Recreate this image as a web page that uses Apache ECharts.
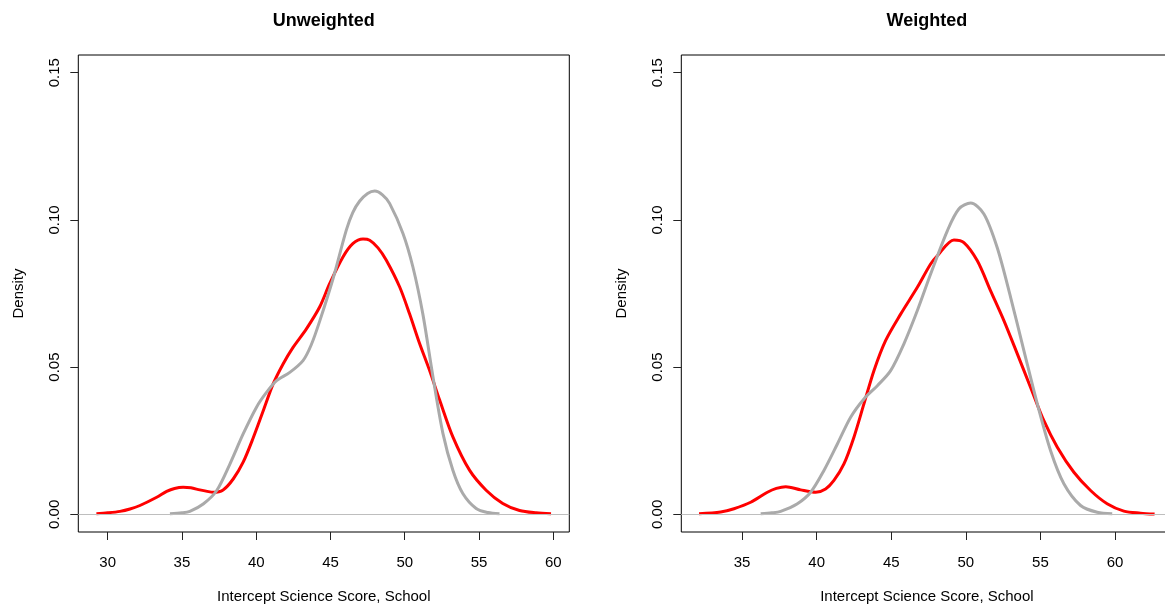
<!DOCTYPE html>
<html>
<head>
<meta charset="utf-8">
<script src="https://cdn.jsdelivr.net/npm/echarts@6/dist/echarts.min.js"></script>
<style>
html,body{margin:0;padding:0;background:#fff;overflow:hidden;width:1165px;height:605px;}
#chart{width:1180px;height:605px;}
</style>
</head>
<body>
<div id="chart"></div>
<script>
// ---- Data ----
const panelTitles = ['Unweighted', 'Weighted'];
const xAxisTitle = 'Intercept Science Score, School';
const yAxisTitle = 'Density';
const yTickValues = [0, 0.05, 0.10, 0.15];
const xTickValuesLeft = [30, 35, 40, 45, 50, 55, 60];
const xTickValuesRight = [35, 40, 45, 50, 55, 60];

// Unweighted panel – red density
const unwRedX = [29.24, 30.0, 30.83, 31.5, 32.17, 33.3, 33.97, 34.5, 35.08, 35.6, 36.2, 36.7, 37.1, 37.77, 38.45, 39.12, 39.8, 40.46, 41.14, 41.8, 42.48, 43.38, 44.28, 44.95, 45.84, 46.52, 47.19, 47.64, 48.2, 48.76, 49.66, 50.33, 51.0, 51.67, 52.35, 53.24, 54.36, 55.48, 56.6, 57.73, 58.85, 59.85];
const unwRedY = [0.0002, 0.0005, 0.001, 0.0018, 0.003, 0.0058, 0.0078, 0.0088, 0.0092, 0.0090, 0.0083, 0.0078, 0.0075, 0.0083, 0.012, 0.0177, 0.026, 0.035, 0.0443, 0.051, 0.0567, 0.063, 0.0705, 0.0784, 0.0874, 0.092, 0.0935, 0.0931, 0.0905, 0.0863, 0.0772, 0.068, 0.058, 0.0489, 0.0388, 0.0263, 0.015, 0.0082, 0.0037, 0.0013, 0.0005, 0.0002];
// Unweighted panel – grey density
const unwGreyX = [34.19, 35.0, 35.53, 36.43, 37.33, 38.22, 39.12, 40.02, 40.69, 41.37, 42.26, 43.15, 43.7, 44.28, 45.17, 46.07, 46.5, 46.97, 47.5, 47.98, 48.5, 48.98, 49.88, 50.55, 51.22, 51.9, 52.57, 53.24, 53.91, 54.81, 55.6, 56.38];
const unwGreyY = [0.0002, 0.0005, 0.001, 0.0035, 0.008, 0.017, 0.0273, 0.0364, 0.0414, 0.0454, 0.0482, 0.0522, 0.0575, 0.0657, 0.080, 0.0966, 0.1025, 0.1064, 0.1090, 0.1098, 0.1085, 0.1056, 0.0954, 0.084, 0.068, 0.0467, 0.0275, 0.015, 0.0071, 0.002, 0.0006, 0.0002];

// Weighted panel – red density
const wRedX = [32.12, 33.57, 34.46, 35.58, 36.7, 37.3, 37.93, 38.93, 39.94, 40.6, 41.16, 41.83, 42.5, 43.17, 43.84, 44.62, 45.63, 46.75, 47.64, 48.09, 49.2, 49.87, 50.77, 51.66, 52.55, 53.45, 54.34, 55.23, 56.13, 57.24, 58.36, 59.47, 60.59, 61.7, 62.65];
const wRedY = [0.0002, 0.0008, 0.0019, 0.0041, 0.0075, 0.0088, 0.0094, 0.0083, 0.0075, 0.0086, 0.0115, 0.0171, 0.0262, 0.0375, 0.0488, 0.059, 0.068, 0.0771, 0.085, 0.0878, 0.0932, 0.0923, 0.0861, 0.0759, 0.0658, 0.0545, 0.0431, 0.0318, 0.0228, 0.0143, 0.0081, 0.0036, 0.0011, 0.0004, 0.0001];
// Weighted panel – grey density
const wGreyX = [36.25, 37.0, 37.59, 38.71, 39.6, 40.49, 41.39, 42.28, 43.17, 44.07, 44.96, 45.85, 46.75, 47.64, 48.76, 49.53, 50.32, 51.21, 52.1, 53.0, 53.89, 54.79, 55.68, 56.57, 57.69, 58.8, 59.81];
const wGreyY = [0.0002, 0.0005, 0.001, 0.0036, 0.0075, 0.0149, 0.0239, 0.033, 0.0392, 0.0437, 0.0488, 0.0579, 0.0692, 0.0816, 0.0963, 0.1037, 0.1057, 0.102, 0.0906, 0.0737, 0.0556, 0.0375, 0.0216, 0.0104, 0.003, 0.0007, 0.0002];

// ---- Chart ----
const FONT = '"Liberation Sans", Arial, Helvetica, sans-serif';
const pairs = (xs, ys) => xs.map((v, i) => [v, ys[i]]);

const grids = [
  {left: 78.3, top: 55, width: 491, height: 477},
  {left: 681.3, top: 55, width: 491.2, height: 477}
];
const xRanges = [[28.02, 61.08], [30.93, 63.85]];
const xTicks = [xTickValuesLeft, xTickValuesRight];

function xAxisFor(i) {
  return {
    type: 'value', gridIndex: i, position: 'bottom', min: xRanges[i][0], max: xRanges[i][1],
    name: xAxisTitle, nameLocation: 'middle', nameGap: 57,
    nameTextStyle: {fontFamily: FONT, fontSize: 15, color: '#000'},
    axisLine: {show: false, onZero: false},
    splitLine: {show: false},
    axisTick: {show: true, inside: false, length: 8, customValues: xTicks[i], lineStyle: {color: '#222', width: 1}},
    axisLabel: {customValues: xTicks[i], margin: 23, fontFamily: FONT, fontSize: 15, color: '#000', formatter: v => String(v)}
  };
}
function yAxisFor(i) {
  return {
    type: 'value', gridIndex: i, position: 'left', min: -0.006, max: 0.156,
    name: yAxisTitle, nameLocation: 'middle', nameGap: 52,
    nameTextStyle: {fontFamily: FONT, fontSize: 15, color: '#000'},
    axisLine: {show: false, onZero: false},
    splitLine: {show: false},
    axisTick: {show: true, inside: false, length: 8, customValues: yTickValues, lineStyle: {color: '#222', width: 1}},
    axisLabel: {customValues: yTickValues, rotate: 90, margin: 16, fontFamily: FONT, fontSize: 15, color: '#000', formatter: v => Number(v).toFixed(2)}
  };
}
function lineSeries(i, data, color, withZero) {
  const s = {
    type: 'line', xAxisIndex: i, yAxisIndex: i, data: data,
    showSymbol: false, symbol: 'none', smooth: 0.3,
    lineStyle: {color: color, width: 3}, silent: true, animation: false
  };
  if (withZero) {
    s.markLine = {
      silent: true, symbol: ['none', 'none'], label: {show: false},
      lineStyle: {color: '#bebebe', width: 1, type: 'solid'},
      data: [{yAxis: 0}], animation: false
    };
  }
  return s;
}

const chart = echarts.init(document.getElementById('chart'), null, {renderer: 'canvas'});
chart.setOption({
  animation: false,
  backgroundColor: '#fff',
  title: panelTitles.map((t, i) => ({
    text: t, left: grids[i].left + grids[i].width / 2, top: 12, textAlign: 'center', padding: 0,
    textStyle: {fontFamily: FONT, fontSize: 18, fontWeight: 'bold', color: '#000'}
  })),
  grid: grids.map(g => Object.assign({show: true, borderColor: '#000', borderWidth: 1, backgroundColor: 'transparent', containLabel: false, outerBoundsMode: 'none'}, g)),
  xAxis: [xAxisFor(0), xAxisFor(1)],
  yAxis: [yAxisFor(0), yAxisFor(1)],
  series: [
    lineSeries(0, pairs(unwRedX, unwRedY), '#ff0000', true),
    lineSeries(0, pairs(unwGreyX, unwGreyY), '#aaaaaa', false),
    lineSeries(1, pairs(wRedX, wRedY), '#ff0000', true),
    lineSeries(1, pairs(wGreyX, wGreyY), '#aaaaaa', false)
  ]
});
</script>
</body>
</html>
